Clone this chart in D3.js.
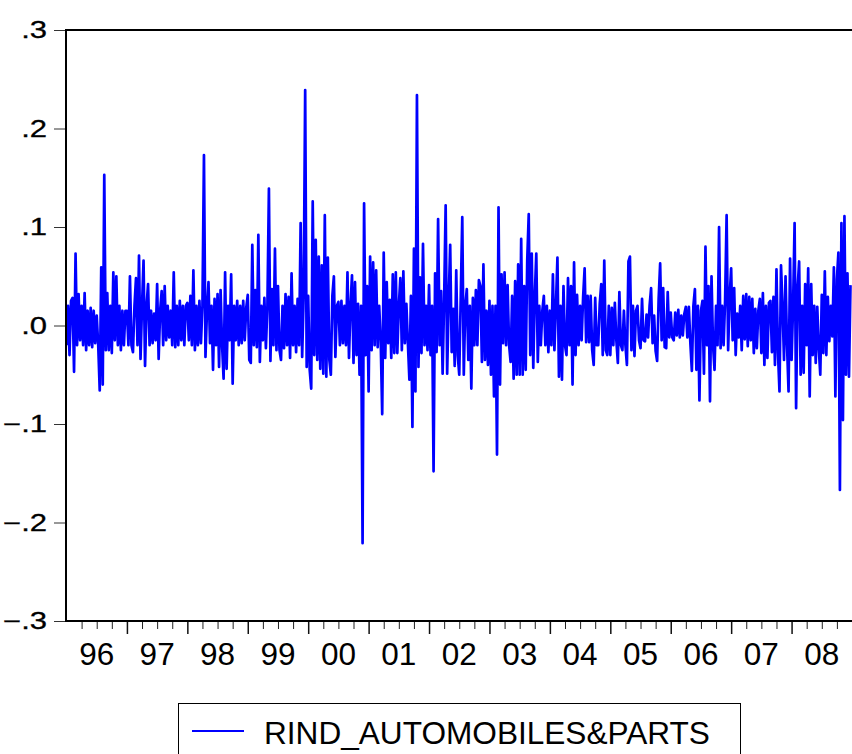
<!DOCTYPE html>
<html>
<head>
<meta charset="utf-8">
<script src="https://cdn.jsdelivr.net/npm/d3@7"></script>
<style>
  body { margin: 0; background: #fff; }
  svg text { font-family: Arial, "Liberation Sans", sans-serif; fill: #000; }
</style>
</head>
<body>
<svg id="chart" width="852" height="754"></svg>
<script>

// series name for the legend
var seriesName = "RIND_AUTOMOBILES&PARTS";

// years on the x axis and their labels
var years = [1996, 1997, 1998, 1999, 2000, 2001, 2002, 2003, 2004, 2005, 2006, 2007, 2008];
var yearLabels = ["96", "97", "98", "99", "00", "01", "02", "03", "04", "05", "06", "07", "08"];

// y axis ticks
var yTicks = [-0.3, -0.2, -0.1, 0.0, 0.1, 0.2, 0.3];

// returns, 40 per year
var r1996 = [-0.02, 0.02, -0.03, 0.025, 0.028, -0.047, 0.073, -0.02, 0.032, -0.015,
             0.02, -0.02, 0.033, -0.025, 0.015, -0.02, 0.018, -0.022, 0.015, -0.018,
             0.01, -0.02, -0.066, 0.059, -0.06, 0.153, -0.025, 0.033, -0.025, 0.02,
             -0.028, 0.054, -0.015, 0.05, -0.02, 0.02, -0.025, 0.015, -0.02, 0.015];
var r1997 = [0.015, -0.02, 0.05, -0.02, -0.027, 0.02, 0.048, -0.02, 0.071, -0.034,
             0.02, 0.066, -0.041, 0.02, 0.042, -0.02, 0.015, -0.018, 0.012, -0.015,
             0.042, -0.034, 0.015, 0.035, -0.02, 0.04, -0.015, 0.02, -0.012, 0.015,
             -0.02, 0.054, -0.022, 0.02, -0.02, 0.025, -0.015, 0.02, -0.02, 0.02];
var r1998 = [0.023, -0.015, 0.03, -0.02, 0.056, -0.025, 0.02, -0.02, 0.025, -0.018,
             0.02, 0.173, -0.032, 0.015, 0.044, -0.018, 0.02, -0.045, 0.027, -0.02,
             0.032, -0.042, 0.036, -0.02, -0.054, 0.054, -0.044, 0.02, -0.015, 0.052,
             -0.059, 0.02, -0.015, 0.025, -0.02, 0.02, -0.018, 0.025, -0.015, 0.018];
var r1999 = [0.031, -0.035, -0.038, 0.082, -0.02, 0.036, -0.022, 0.092, -0.037, 0.02,
             -0.015, 0.028, -0.023, 0.02, 0.139, -0.036, 0.037, -0.02, 0.078, -0.025,
             0.04, -0.025, -0.035, 0.02, -0.023, 0.032, -0.02, 0.029, -0.033, 0.053,
             -0.02, 0.02, -0.027, 0.027, -0.02, 0.104, -0.032, 0.03, 0.239, -0.042];
var r2000 = [0.03, -0.045, -0.064, 0.126, -0.03, 0.087, -0.035, 0.07, -0.044, 0.061,
             -0.049, 0.112, -0.052, 0.069, -0.035, -0.05, 0.03, 0.05, -0.032, 0.02,
             0.024, -0.02, 0.025, -0.018, 0.02, -0.02, 0.054, -0.033, 0.02, 0.051,
             -0.038, 0.044, -0.03, 0.022, -0.05, 0.02, -0.221, 0.124, -0.03, 0.04];
var r2001 = [-0.067, 0.07, -0.025, 0.064, -0.02, 0.056, -0.022, 0.02, -0.015, -0.09,
             0.074, -0.033, 0.044, -0.018, 0.026, -0.033, 0.052, -0.028, 0.054, -0.028,
             0.02, 0.048, -0.025, 0.055, -0.018, 0.022, -0.018, -0.055, 0.03, -0.103,
             0.078, -0.067, 0.234, -0.042, 0.049, -0.028, 0.083, -0.02, 0.02, -0.025];
var r2002 = [0.041, -0.03, 0.02, -0.148, 0.053, -0.027, 0.108, -0.02, 0.035, -0.049,
             0.027, 0.122, -0.049, 0.025, 0.082, -0.027, 0.017, -0.041, 0.056, -0.03,
             -0.05, 0.03, 0.11, -0.05, 0.02, 0.037, -0.035, 0.02, -0.064, 0.028,
             -0.02, 0.036, -0.02, 0.046, 0.04, -0.037, 0.062, -0.035, 0.015, -0.04];
var r2003 = [0.025, -0.05, 0.02, -0.072, 0.02, -0.131, 0.12, -0.06, 0.052, -0.018,
             0.054, -0.02, 0.041, -0.02, -0.037, 0.03, -0.054, 0.045, -0.05, 0.062,
             -0.05, 0.088, -0.05, 0.04, -0.045, 0.066, 0.113, -0.03, 0.073, -0.043,
             0.03, 0.073, -0.037, 0.02, -0.02, 0.015, 0.03, -0.02, 0.02, -0.027];
var r2004 = [0.015, -0.02, 0.052, -0.025, 0.02, 0.069, -0.052, 0.02, -0.055, 0.04,
             -0.02, -0.03, 0.048, -0.02, 0.04, -0.06, 0.064, -0.03, 0.031, -0.02,
             0.02, -0.015, 0.029, 0.058, -0.017, 0.03, -0.017, 0.03, -0.025, -0.04,
             0.028, -0.02, -0.02, 0.022, 0.042, -0.03, 0.066, -0.025, -0.03, 0.02];
var r2005 = [-0.03, 0.018, -0.02, 0.023, -0.015, -0.038, 0.034, -0.02, -0.025, 0.015,
             -0.02, -0.04, 0.065, 0.07, -0.025, 0.02, -0.031, 0.015, 0.02, -0.015,
             -0.023, 0.027, -0.015, -0.016, 0.011, -0.012, 0.02, 0.038, -0.018, 0.01,
             -0.026, -0.036, 0.027, 0.063, -0.015, 0.038, -0.022, -0.023, 0.034, -0.012];
var r2006 = [0.013, -0.012, -0.015, 0.013, -0.01, 0.016, -0.012, 0.01, -0.01, 0.012,
             0.019, -0.012, 0.019, -0.018, -0.046, 0.02, 0.037, -0.045, 0.02, -0.076,
             0.015, 0.025, -0.049, 0.08, -0.02, 0.04, -0.077, 0.05, -0.02, -0.045,
             0.02, -0.02, 0.1, -0.023, 0.02, -0.02, 0.026, 0.112, -0.025, 0.029];
var r2007 = [0.058, -0.015, 0.038, -0.03, 0.012, -0.012, 0.02, -0.025, 0.03, -0.014,
             0.032, -0.021, 0.029, -0.015, 0.027, -0.028, 0.017, -0.023, 0.015, 0.027,
             -0.028, 0.033, -0.04, 0.02, -0.033, 0.023, 0.025, -0.027, 0.029, -0.04,
             0.057, -0.028, -0.067, 0.061, 0.02, -0.035, 0.05, -0.02, -0.067, 0.068];
var r2008 = [-0.035, 0.02, 0.104, -0.084, 0.038, 0.065, -0.05, 0.02, -0.048, 0.042,
             -0.02, 0.058, -0.072, 0.042, -0.03, 0.02, -0.038, 0.019, -0.023, -0.05,
             0.031, -0.028, 0.055, -0.03, 0.029, -0.016, 0.02, -0.011, 0.059, -0.072,
             0.047, 0.074, -0.167, 0.104, -0.096, 0.111, -0.05, 0.053, -0.052, 0.041];

var yearValues = [r1996, r1997, r1998, r1999, r2000, r2001, r2002,
                  r2003, r2004, r2005, r2006, r2007, r2008];

// flatten to {t, v} with t as fractional year
var data = [];
years.forEach(function(yr, k) {
    var vals = yearValues[k];
    vals.forEach(function(v, i) {
        data.push({t: yr + i / vals.length, v: v});
    });
});

var svg = d3.select("#chart");
// plot frame edges (note: "top" is reserved on window)
var plotLeft = 66, plotTop = 30, plotBottom = 621, plotRight = 852;

var x = d3.scaleLinear().domain([1996, 2009]).range([66.5, 852]);
var y = d3.scaleLinear().domain([-0.3, 0.3]).range([plotBottom, plotTop]);

// format like .3 / -.1
function fmt(d) {
    return d3.format(".1f")(d).replace("0.", ".");
}

// y axis ticks
svg.append("g")
    .attr("transform", "translate(" + plotLeft + ",0)")
    .call(d3.axisLeft(y).tickValues(yTicks).tickSize(12).tickSizeOuter(0).tickFormat(""))
    .call(function(g) {
        g.select(".domain").remove();
        g.selectAll("line").attr("stroke", "#333").attr("stroke-width", 1);
    });

// y labels (squashed like the original)
svg.append("g").selectAll("text")
    .data(yTicks)
    .enter().append("text")
    .attr("transform", function(d) { return "translate(47," + y(d) + ") scale(1,0.75)"; })
    .attr("text-anchor", "end")
    .attr("dy", "0.36em")
    .style("font-size", "31px")
    .style("stroke", "#000")
    .style("stroke-width", 0.4)
    .text(fmt);

// quarter ticks and year ticks
var quarters = [];
var majors = [];
for (var q = 1996.25; q < 2009; q += 0.25) {
    if (Math.abs(q - Math.round(q)) < 1e-6) majors.push(q); else quarters.push(q);
}

svg.append("g")
    .attr("transform", "translate(0," + plotBottom + ")")
    .call(d3.axisBottom(x).tickValues(quarters).tickSize(8).tickSizeOuter(0).tickFormat(""))
    .call(function(g) {
        g.select(".domain").remove();
        g.selectAll("line").attr("stroke", "#222").attr("stroke-width", 1);
    });

svg.append("g")
    .attr("transform", "translate(0," + plotBottom + ")")
    .call(d3.axisBottom(x).tickValues(majors).tickSize(13).tickSizeOuter(0).tickFormat(""))
    .call(function(g) {
        g.select(".domain").remove();
        g.selectAll("line").attr("stroke", "#111").attr("stroke-width", 1.5);
    });

// year labels in the middle of each year
svg.append("g").selectAll("text")
    .data(years)
    .enter().append("text")
    .attr("x", function(d) { return x(d + 0.5); })
    .attr("y", 665)
    .attr("text-anchor", "middle")
    .style("font-size", "31.5px")
    .text(function(d, i) { return yearLabels[i]; });

// the series
var line = d3.line()
    .x(function(d) { return x(d.t); })
    .y(function(d) { return y(d.v); });

svg.append("path")
    .datum(data)
    .attr("d", line)
    .attr("fill", "none")
    .attr("stroke", "#0000ff")
    .attr("stroke-width", 2.7)
    .attr("stroke-linejoin", "round");

// frame: top, left, bottom
svg.append("path")
    .attr("d", "M" + plotRight + "," + plotTop + "H" + plotLeft + "V" + plotBottom + "H" + plotRight)
    .attr("fill", "none")
    .attr("stroke", "#000")
    .attr("stroke-width", 2);

// legend
var legend = svg.append("g");
legend.append("rect")
    .attr("x", 178.5).attr("y", 703.5)
    .attr("width", 562).attr("height", 70)
    .attr("fill", "none")
    .attr("stroke", "#000")
    .attr("stroke-width", 1);
legend.append("line")
    .attr("x1", 192).attr("x2", 244)
    .attr("y1", 731).attr("y2", 731)
    .attr("stroke", "#0000ff")
    .attr("stroke-width", 2);
legend.append("text")
    .attr("x", 264).attr("y", 744)
    .style("font-size", "31.6px")
    .text(seriesName);

</script>
</body>
</html>
